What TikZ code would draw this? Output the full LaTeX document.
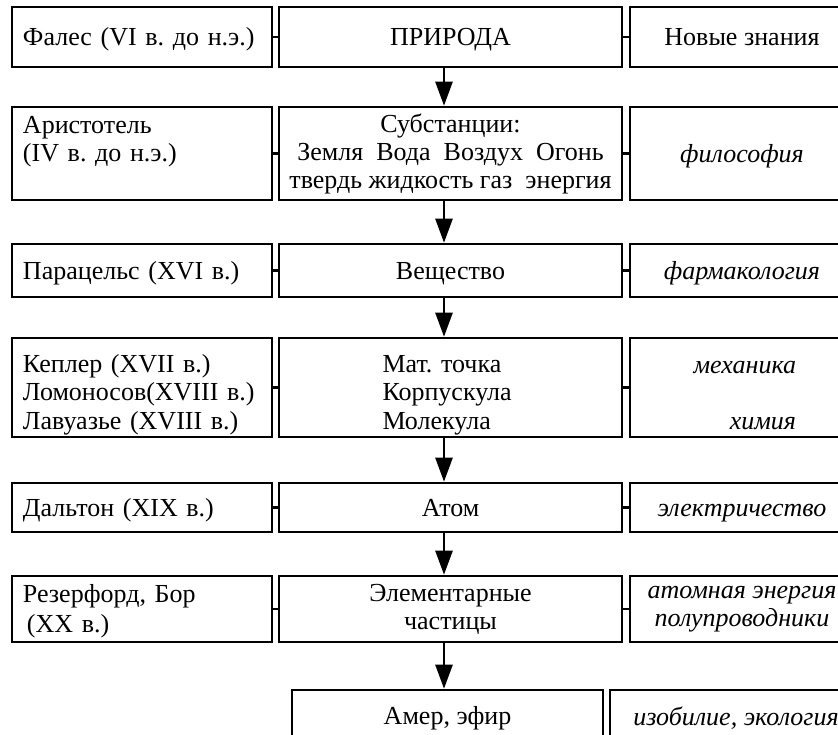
\documentclass[tikz,border=0pt]{standalone}
\usepackage{fontspec}
\setmainfont{Liberation Serif}
\frenchspacing
\newcommand{\rowstrut}{\vrule height 23pt depth 5pt width 0pt}
\usetikzlibrary{arrows.meta,positioning}

\begin{document}
\begin{tikzpicture}[x=1pt, y=-1pt,
      person/.style={draw, line width=2.6pt, text width=238pt, inner xsep=11pt, inner ysep=2pt, align=left, font=\fontsize{26}{28}\selectfont, execute at begin node=\rowstrut, execute at end node=\rowstrut},
      concept/.style={draw, line width=2.6pt, minimum width=343pt, inner xsep=2pt, inner ysep=2pt, align=center, font=\fontsize{26}{28}\selectfont, execute at begin node=\rowstrut, execute at end node=\rowstrut},
      field/.style={draw, line width=2.6pt, minimum width=224pt, inner xsep=2pt, inner ysep=2pt, align=center, font=\fontsize{26}{28}\selectfont\itshape, execute at begin node=\rowstrut, execute at end node=\rowstrut},
      lowrow/.style={inner ysep=0pt, execute at begin node={\vrule height 33pt depth 0pt width 0pt}, execute at end node={\vrule height 0pt depth 6pt width 0pt}},
      arrowstyle/.style={-{Triangle[length=24pt,width=17pt]}, line width=2.6pt},
      linkstyle/.style={line width=2.6pt}
    ]
    \clip (0,0) rectangle (838,735);

    \node[person, minimum height=60pt] (thales) at (142,37) {Фалес (VI в. до н.э.)};
    \node[concept, minimum height=60pt] (nature) at (450.5,37) {ПРИРОДА};
    \node[field, minimum height=60pt] (knowledge) at (742,37) {\upshape Новые знания};

    \node[person, minimum height=93pt] (aristotle) at (142,153.5) {Аристотель\\(IV в. до н.э.)\\};
    \node[concept, minimum height=93pt] (substances) at (450.5,153.5) {Субстанции:\\Земля\ \ Вода\ \ Воздух\ \ Огонь\\твердь жидкость газ\ \ энергия};
    \node[field, minimum height=93pt] (philosophy) at (742,153.5) {философия};

    \node[person, minimum height=53pt] (paracelsus) at (142,270.5) {Парацельс (XVI в.)};
    \node[concept, minimum height=53pt] (matter) at (450.5,270.5) {Вещество};
    \node[field, minimum height=53pt] (pharmacology) at (742,270.5) {фармакология};

    \node[person, lowrow, minimum height=99pt] (kepler) at (142,387.5) {Кеплер (XVII в.)\\Ломоносов(XVIII в.)\\Лавуазье (XVIII в.)};
    \node[concept, lowrow, minimum height=99pt, text width=136pt, align=left] (point) at (450.5,387.5) {Мат. точка\\Корпускула\\Молекула};
    \node[field, lowrow, minimum height=99pt, text width=108pt, align=right] (mechanics) at (742,387.5) {механика\\[28pt]химия};

    \node[person, minimum height=49pt] (dalton) at (142,507.5) {Дальтон (XIX в.)};
    \node[concept, minimum height=49pt] (atom) at (450.5,507.5) {Атом};
    \node[field, minimum height=49pt] (electricity) at (742,507.5) {электричество};

    \node[person, minimum height=66pt] (rutherford) at (142,609) {Резерфорд, Бор\\\hspace*{4pt}(XX в.)};
    \node[concept, minimum height=66pt] (elementary) at (450.5,609) {Элементарные\\частицы};
    \node[field, minimum height=66pt] (nuclear) at (742,609) {атомная энергия\\полупроводники};

    \node[concept, minimum width=311pt, minimum height=52pt] (ether) at (447.5,716) {Амер, эфир};
    \node[field, minimum width=252pt, minimum height=52pt] (ecology) at (736,716) {изобилие, экология};

    \draw[linkstyle] (thales) -- (nature);
    \draw[linkstyle] (nature) -- (knowledge);
    \draw[linkstyle] (aristotle) -- (substances);
    \draw[linkstyle] (substances) -- (philosophy);
    \draw[linkstyle] (paracelsus) -- (matter);
    \draw[linkstyle] (matter) -- (pharmacology);
    \draw[linkstyle] (kepler) -- (point);
    \draw[linkstyle] (point) -- (mechanics);
    \draw[linkstyle] (dalton) -- (atom);
    \draw[linkstyle] (atom) -- (electricity);
    \draw[linkstyle] (rutherford) -- (elementary);
    \draw[linkstyle] (elementary) -- (nuclear);

    \draw[arrowstyle] ([xshift=-6.5pt]nature.south) -- ([xshift=-6.5pt]nature.south |- substances.north);
    \draw[arrowstyle] ([xshift=-6.5pt]substances.south) -- ([xshift=-6.5pt]substances.south |- matter.north);
    \draw[arrowstyle] ([xshift=-6.5pt]matter.south) -- ([xshift=-6.5pt]matter.south |- point.north);
    \draw[arrowstyle] ([xshift=-6.5pt]point.south) -- ([xshift=-6.5pt]point.south |- atom.north);
    \draw[arrowstyle] ([xshift=-6.5pt]atom.south) -- ([xshift=-6.5pt]atom.south |- elementary.north);
    \draw[arrowstyle] ([xshift=-6.5pt]elementary.south) -- ([xshift=-6.5pt]elementary.south |- ether.north);
  \end{tikzpicture}
\end{document}
